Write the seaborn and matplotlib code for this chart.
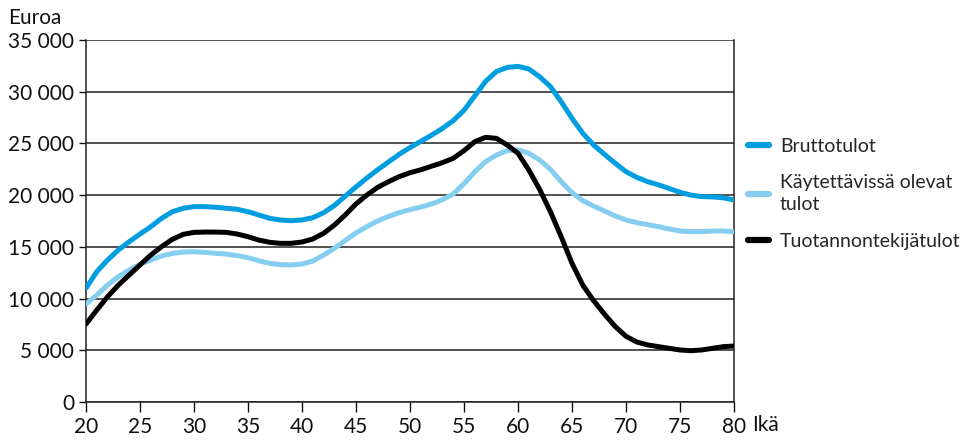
import matplotlib
matplotlib.use("Agg")
import matplotlib.pyplot as plt
import seaborn as sns
import pandas as pd
from matplotlib.ticker import MultipleLocator, FuncFormatter
from matplotlib.lines import Line2D

ages = list(range(20, 81))

brutto = [11000, 12600, 13730, 14700, 15500, 16240, 16950, 17760, 18400, 18730,
          18890, 18890, 18830, 18730, 18630, 18400, 18080, 17760, 17600, 17530,
          17600, 17820, 18300, 19000, 19900, 20800, 21650, 22450, 23200, 23950,
          24600, 25200, 25800, 26450, 27200, 28200, 29600, 31000, 31950, 32350,
          32450, 32200, 31450, 30500, 29030, 27430, 25980, 24850, 23950, 23080,
          22270, 21720, 21300, 21000, 20640, 20280, 20010, 19860, 19830, 19740, 19530]

kaytettavissa = [9480, 10350, 11310, 12120, 12760, 13310, 13730, 14120, 14370, 14500,
                 14530, 14470, 14370, 14300, 14150, 13950, 13660, 13410, 13280, 13250,
                 13340, 13630, 14210, 14860, 15600, 16350, 16950, 17500, 17950, 18300,
                 18600, 18850, 19150, 19550, 20110, 21100, 22270, 23240, 23880, 24300,
                 24370, 24050, 23400, 22500, 21300, 20240, 19470, 18950, 18470, 17990,
                 17600, 17340, 17150, 16950, 16730, 16530, 16470, 16470, 16530, 16530, 16470]

tuotannontekija = [7540, 8890, 10180, 11310, 12280, 13250, 14210, 15020, 15730, 16210,
                   16400, 16430, 16430, 16400, 16240, 15980, 15660, 15440, 15340, 15340,
                   15470, 15760, 16310, 17110, 18080, 19150, 20010, 20750, 21300, 21790,
                   22170, 22450, 22800, 23140, 23560, 24300, 25170, 25590, 25490, 24850,
                   24050, 22430, 20560, 18400, 15980, 13410, 11300, 9800, 8500, 7300,
                   6350, 5800, 5520, 5350, 5190, 5030, 4960, 5030, 5190, 5350, 5410]

series_names = ["Bruttotulot", "Käytettävissä olevat\ntulot", "Tuotannontekijätulot"]
colors = ["#009EE0", "#86CEF0", "#000000"]

y_ticks = [0, 5000, 10000, 15000, 20000, 25000, 30000, 35000]
x_ticks = [20, 25, 30, 35, 40, 45, 50, 55, 60, 65, 70, 75, 80]

df = pd.DataFrame({
    "Ikä": ages * 3,
    "Euroa": brutto + kaytettavissa + tuotannontekija,
    "Sarja": [series_names[0]] * len(ages) + [series_names[1]] * len(ages) + [series_names[2]] * len(ages),
})

sns.set_style("white")
plt.rcParams["font.family"] = ["Lato", "DejaVu Sans"]

fig = plt.figure(figsize=(9.66, 4.4), dpi=100)
ax = fig.add_axes([86/966, 38/440, (734-86)/966, (402-40)/440])

sns.lineplot(data=df, x="Ikä", y="Euroa", hue="Sarja", palette=colors,
             hue_order=series_names, linewidth=3.6, ax=ax, legend=False,
             zorder=3)

ax.set_xlim(20, 80)
ax.set_ylim(0, 35000)
ax.set_yticks(y_ticks)
ax.set_xticks(x_ticks)
ax.xaxis.set_minor_locator(MultipleLocator(1))
ax.yaxis.set_major_formatter(FuncFormatter(lambda v, p: f"{int(v):,}".replace(",", " ")))
ax.grid(axis="y", color="#222222", linewidth=1.1, zorder=1)
ax.grid(axis="x", visible=False)
for s in ["left", "bottom", "right"]:
    ax.spines[s].set_visible(True)
    ax.spines[s].set_color("#222222")
    ax.spines[s].set_linewidth(1.1)
ax.spines["top"].set_visible(False)
ax.tick_params(axis="both", which="major", labelsize=15, colors="#111111",
               direction="out", length=6, width=1.0)
ax.tick_params(axis="x", which="minor", direction="out", length=3, width=1.0, color="#111111")
ax.tick_params(axis="x", which="major", bottom=True, length=7)
ax.tick_params(axis="y", which="major", left=True, length=5)
ax.set_xlabel("")
ax.set_ylabel("")

fig.text(8/966, 1 - 18/440, "Euroa", fontsize=15, va="center", ha="left", color="#111111")
fig.text(752/966, 1 - 425/440, "Ikä", fontsize=15, va="center", ha="left", color="#111111")

handles = [Line2D([0], [0], color=c, linewidth=4.5) for c in colors]
leg = fig.legend(handles, series_names, loc="upper left",
                 bbox_to_anchor=(740/966, 1 - 130/440), frameon=False,
                 fontsize=14, handlelength=1.1, handletextpad=0.55,
                 labelspacing=1.0, borderaxespad=0)
for t in leg.get_texts():
    t.set_linespacing(1.35)

fig.savefig("out.png", dpi=100)
